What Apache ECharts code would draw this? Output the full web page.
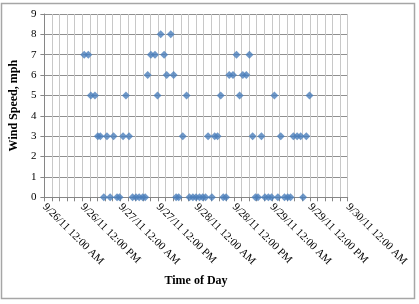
<!DOCTYPE html>
<html>
<head>
<meta charset="utf-8">
<script src="https://cdn.jsdelivr.net/npm/echarts@6/dist/echarts.min.js"></script>
<style>
html,body{margin:0;padding:0;background:#fff;}
#chart{width:419px;height:304px;}
</style>
</head>
<body>
<div id="chart"></div>
<script>
// Hours elapsed since 9/26/11 12:00 AM
const hoursSinceStart = [
  12.6, 13.9, 14.7, 16.0, 16.9, 17.7, 18.8, 19.8, 20.8, 21.9,
  23.0, 23.8, 24.9, 25.8, 26.8, 27.9, 29.0, 30.0, 31.1, 31.9,
  32.7, 33.7, 35.0, 35.8, 36.8, 37.9, 38.7, 40.0, 40.9, 41.7,
  42.5, 43.8, 45.0, 45.9, 47.0, 48.0, 49.1, 50.1, 51.0, 51.8,
  53.0, 53.9, 54.8, 55.8, 56.6, 57.5, 58.5, 59.7, 60.8, 61.8,
  62.8, 63.9, 64.9, 65.9, 66.8, 67.6, 68.7, 69.8, 70.9, 71.9,
  72.8, 73.9, 74.8, 76.0, 77.0, 77.9, 78.8, 80.0, 81.1, 81.9,
  82.9, 83.9
];
// Wind speed, mph
const windSpeed = [
  7, 7, 5, 5, 3, 3, 0, 3, 0, 3,
  0, 0, 3, 5, 3, 0, 0, 0, 0, 0,
  6, 7, 7, 5, 8, 7, 6, 8, 6, 0,
  0, 3, 5, 0, 0, 0, 0, 0, 0, 3,
  0, 3, 3, 5, 0, 0, 6, 6, 7, 5,
  6, 6, 7, 3, 0, 0, 3, 0, 0, 0,
  5, 0, 3, 0, 0, 0, 3, 3, 3, 0,
  3, 5
];
// X tick labels, one every 12 hours
const xTickLabels = [
  '9/26/11 12:00 AM', '9/26/11 12:00 PM', '9/27/11 12:00 AM', '9/27/11 12:00 PM',
  '9/28/11 12:00 AM', '9/28/11 12:00 PM', '9/29/11 12:00 AM', '9/29/11 12:00 PM',
  '9/30/11 12:00 AM'
];
const yTickLabels = ['0','1','2','3','4','5','6','7','8','9'];

const points = hoursSinceStart.map((h, i) => [h, windSpeed[i]]);
const serif = '"Liberation Serif", "Times New Roman", serif';

const chart = echarts.init(document.getElementById('chart'), null, {renderer: 'canvas'});
chart.setOption({
  animation: false,
  backgroundColor: '#ffffff',
  grid: {left: 43.3, right: 71.3, top: 14, bottom: 106.7, containLabel: false},
  xAxis: {
    type: 'value', min: 0, max: 96, interval: 2.4,
    axisLine: {show: true, lineStyle: {color: '#868686', width: 1}},
    axisTick: {show: true, length: 4, lineStyle: {color: '#868686'}},
    splitLine: {show: true, lineStyle: {color: '#c8c8c8', width: 1}},
    axisLabel: {
      rotate: -45, margin: 8, fontFamily: serif, fontSize: 11, color: '#000',
      showMinLabel: true, showMaxLabel: true, hideOverlap: false,
      formatter: function (v) {
        const k = v / 12;
        if (Math.abs(k - Math.round(k)) < 1e-6) return xTickLabels[Math.round(k)] || '';
        return '';
      }
    }
  },
  yAxis: {
    type: 'value', min: 0, max: 9, interval: 1,
    axisLine: {show: true, lineStyle: {color: '#868686', width: 1}},
    axisTick: {show: true, length: 4, lineStyle: {color: '#868686'}},
    splitLine: {show: true, lineStyle: {color: '#909090', width: 1}},
    axisLabel: {
      margin: 8, fontFamily: serif, fontSize: 11, color: '#000',
      formatter: function (v) { return yTickLabels[Math.round(v)]; }
    },
    name: 'Wind Speed, mph', nameLocation: 'middle', nameGap: 19,
    nameTextStyle: {fontFamily: serif, fontSize: 12, fontWeight: 'bold', color: '#000'}
  },
  series: [{
    type: 'scatter',
    data: points,
    symbol: 'diamond',
    symbolSize: 8,
    itemStyle: {color: '#4a7ebb'}
  }],
  graphic: [
    {type: 'rect', shape: {x: 1.5, y: 3.5, width: 413, height: 295},
     style: {fill: null, stroke: '#a6a6a6', lineWidth: 1.5}, z: 100},
    {type: 'text', x: 196, y: 281,
     style: {text: 'Time of Day', font: 'bold 12px ' + serif, fill: '#000',
             textAlign: 'center', textVerticalAlign: 'middle'}}
  ]
});
</script>
</body>
</html>
